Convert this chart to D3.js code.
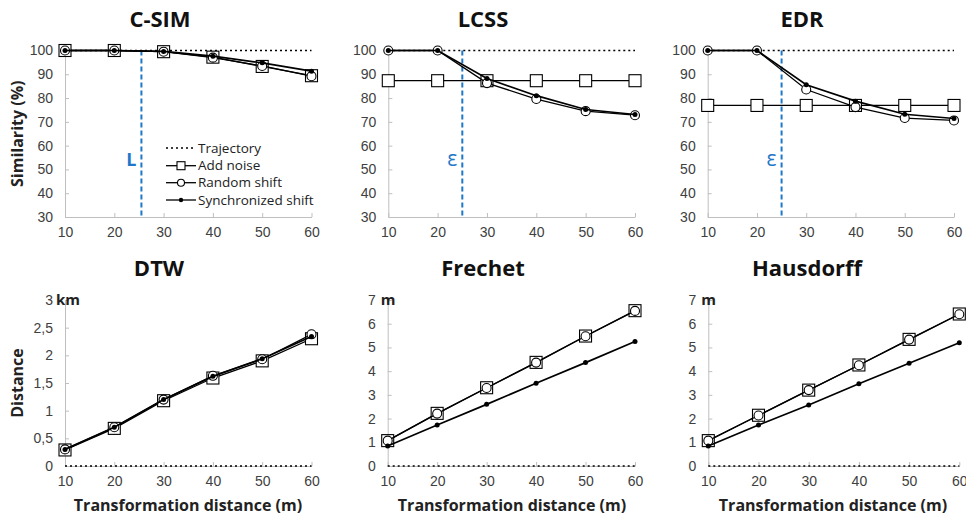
<!DOCTYPE html>
<html>
<head>
<meta charset="utf-8">
<script src="https://cdn.jsdelivr.net/npm/d3@7"></script>
<style>
  body { margin: 0; background: #fff; }
  svg { font-family: "Open Sans", sans-serif; }
  .tick text { fill: #404040; font-size: 14px; }
  .domain, .tick line { stroke: #bfbfbf; }
  .title { font-weight: bold; font-size: 22px; text-anchor: middle; fill: #111; }
  .axis-title { font-weight: bold; font-size: 16px; fill: #222; text-anchor: middle; }
  .legend text { font-size: 13.5px; fill: #222; }
</style>
</head>
<body>
<svg width="966" height="520"></svg>
<script>
// categories and ticks
const xCats = [10, 20, 30, 40, 50, 60];
const simTicks = [30, 40, 50, 60, 70, 80, 90, 100];
const kmTicks = [0, 0.5, 1, 1.5, 2, 2.5, 3];
const mTicks = [0, 1, 2, 3, 4, 5, 6, 7];
const seriesNames = ["Trajectory", "Add noise", "Random shift", "Synchronized shift"];

// reference series (identical trajectory)
const trajSim = [100, 100, 100, 100, 100, 100];
const trajDist = [0, 0, 0, 0, 0, 0];

// similarity measures (%)
const csimNoise = [100, 100, 99.5, 97.2, 93.3, 89.4];
const csimRandom = [100, 100, 99.5, 97.0, 93.5, 89.2];
const csimSync = [100, 100, 99.6, 97.6, 94.8, 91.3];
const lcssNoise = [87.3, 87.3, 87.3, 87.3, 87.3, 87.3];
const lcssRandom = [100, 100, 86.3, 79.6, 74.5, 72.8];
const lcssSync = [100, 100, 88.2, 81.0, 75.2, 73.1];
const edrNoise = [76.9, 76.9, 76.9, 76.9, 76.9, 76.9];
const edrRandom = [100, 100, 83.6, 76.2, 71.6, 70.6];
const edrSync = [100, 100, 85.6, 78.7, 73.2, 71.4];

// distance measures
const dtwNoise = [0.29, 0.68, 1.18, 1.59, 1.90, 2.30];
const dtwRandom = [0.30, 0.70, 1.20, 1.63, 1.93, 2.38];
const dtwSync = [0.30, 0.70, 1.20, 1.62, 1.94, 2.34];
const frechetNoise = [1.07, 2.22, 3.30, 4.37, 5.48, 6.55];
const frechetRandom = [1.07, 2.21, 3.29, 4.36, 5.47, 6.54];
const frechetSync = [0.84, 1.73, 2.60, 3.49, 4.36, 5.25];
const hausNoise = [1.07, 2.14, 3.20, 4.26, 5.34, 6.41];
const hausRandom = [1.07, 2.13, 3.20, 4.25, 5.33, 6.40];
const hausSync = [0.84, 1.73, 2.57, 3.47, 4.33, 5.20];

// thresholds (parameter marks)
const csimThreshold = 25.5;
const lcssThreshold = 25;
const edrThreshold = 25;

const svg = d3.select("svg");

const panels = [
  { title: "C-SIM", tx: 160, ty: 27, x0: 65, x1: 311.5, yTop: 50.5, yBot: 217,
    ticks: simTicks, traj: trajSim, noise: csimNoise, random: csimRandom, sync: csimSync,
    thr: csimThreshold, thrLabel: "L", yTitle: "Similarity (%)", legend: true },
  { title: "LCSS", tx: 483, ty: 27, x0: 388.3, x1: 635, yTop: 50.5, yBot: 217,
    ticks: simTicks, traj: trajSim, noise: lcssNoise, random: lcssRandom, sync: lcssSync,
    thr: lcssThreshold, thrLabel: "ε" },
  { title: "EDR", tx: 802, ty: 27, x0: 707.7, x1: 954, yTop: 50.5, yBot: 217,
    ticks: simTicks, traj: trajSim, noise: edrNoise, random: edrRandom, sync: edrSync,
    thr: edrThreshold, thrLabel: "ε" },
  { title: "DTW", tx: 159, ty: 276, x0: 65, x1: 311.5, yTop: 300, yBot: 466,
    ticks: kmTicks, traj: trajDist, noise: dtwNoise, random: dtwRandom, sync: dtwSync,
    unit: "km", yTitle: "Distance", xTitle: true, xtx: 188 },
  { title: "Frechet", tx: 483, ty: 276, x0: 387.7, x1: 635, yTop: 300, yBot: 466,
    ticks: mTicks, traj: trajDist, noise: frechetNoise, random: frechetRandom, sync: frechetSync,
    unit: "m", xTitle: true, xtx: 512 },
  { title: "Hausdorff", tx: 807, ty: 276, x0: 708.3, x1: 959.3, yTop: 300, yBot: 466,
    ticks: mTicks, traj: trajDist, noise: hausNoise, random: hausRandom, sync: hausSync,
    unit: "m", xTitle: true, xtx: 833 }
];

const fmt = (d) => String(d).replace(".", ",");

const drawSquare = (g, cx, cy, s) =>
  g.append("rect").attr("x", cx - s / 2).attr("y", cy - s / 2)
    .attr("width", s).attr("height", s)
    .attr("fill", "#fff").attr("stroke", "#000").attr("stroke-width", 1.1);

const drawCircle = (g, cx, cy, r) =>
  g.append("circle").attr("cx", cx).attr("cy", cy).attr("r", r)
    .attr("fill", "#fff").attr("stroke", "#000").attr("stroke-width", 1.1);

const drawDot = (g, cx, cy, r) =>
  g.append("circle").attr("cx", cx).attr("cy", cy).attr("r", r).attr("fill", "#000");

panels.forEach((p) => {
  const x = d3.scaleLinear().domain([10, 60]).range([p.x0, p.x1]);
  const y = d3.scaleLinear().domain(d3.extent(p.ticks)).range([p.yBot, p.yTop]);
  const g = svg.append("g");

  // axes: light gray, inward ticks
  g.append("g").attr("transform", `translate(${p.x0},0)`)
    .call(d3.axisLeft(y).tickValues(p.ticks).tickFormat(fmt)
      .tickSizeInner(-4).tickSizeOuter(0).tickPadding(12));
  g.append("g").attr("transform", `translate(0,${p.yBot})`)
    .call(d3.axisBottom(x).tickValues(xCats)
      .tickSizeInner(-4).tickSizeOuter(0).tickPadding(10));

  // unit next to the top tick
  if (p.unit) {
    g.append("text").attr("x", p.x0 - 12 + (p.unit === "km" ? 3 : 5))
      .attr("y", y(d3.max(p.ticks))).attr("dy", "0.32em")
      .attr("font-size", 15).attr("font-weight", "bold").attr("fill", "#222")
      .text(p.unit);
  }

  g.append("text").attr("class", "title").attr("x", p.tx).attr("y", p.ty).text(p.title);

  if (p.yTitle) {
    g.append("text").attr("class", "axis-title")
      .attr("transform", `translate(23,${(p.yTop + p.yBot) / 2}) rotate(-90)`)
      .attr("font-size", p.yTitle === "Distance" ? 17 : 15.5)
      .text(p.yTitle);
  }
  if (p.xTitle) {
    g.append("text").attr("class", "axis-title").attr("x", p.xtx).attr("y", 511)
      .text("Transformation distance (m)");
  }

  // threshold line
  if (p.thr) {
    g.append("line").attr("x1", x(p.thr)).attr("x2", x(p.thr))
      .attr("y1", y(d3.max(p.ticks))).attr("y2", y(d3.min(p.ticks)))
      .attr("stroke", "#1f77c8").attr("stroke-width", 2).attr("stroke-dasharray", "5,3");
    g.append("text").attr("x", x(p.thr) - 10).attr("y", 166)
      .attr("text-anchor", "middle").attr("fill", "#1f77c8")
      .attr("font-size", p.thrLabel === "L" ? 18 : 21)
      .attr("font-weight", p.thrLabel === "L" ? "bold" : "normal")
      .text(p.thrLabel);
  }

  const line = d3.line().x((d, i) => x(xCats[i])).y((d) => y(d));

  // Trajectory: dotted
  g.append("path").attr("d", line(p.traj)).attr("fill", "none")
    .attr("stroke", "#000").attr("stroke-width", 1.6).attr("stroke-dasharray", "2,3");

  // Add noise: squares
  g.append("path").attr("d", line(p.noise)).attr("fill", "none")
    .attr("stroke", "#000").attr("stroke-width", 1.3);
  p.noise.forEach((d, i) => drawSquare(g, x(xCats[i]), y(d), 12));

  // Random shift: circles
  g.append("path").attr("d", line(p.random)).attr("fill", "none")
    .attr("stroke", "#000").attr("stroke-width", 1.3);
  p.random.forEach((d, i) => drawCircle(g, x(xCats[i]), y(d), 4.5));

  // Synchronized shift: dots
  g.append("path").attr("d", line(p.sync)).attr("fill", "none")
    .attr("stroke", "#000").attr("stroke-width", 1.7);
  p.sync.forEach((d, i) => drawDot(g, x(xCats[i]), y(d), 2.5));

  // legend
  if (p.legend) {
    const lg = g.append("g").attr("class", "legend");
    const rows = [148, 165.7, 182.7, 200];
    seriesNames.forEach((name, i) => {
      const ly = rows[i];
      lg.append("line").attr("x1", 166).attr("x2", 196).attr("y1", ly).attr("y2", ly)
        .attr("stroke", "#000").attr("stroke-width", i === 0 ? 1.6 : 1.3)
        .attr("stroke-dasharray", i === 0 ? "2,3" : null);
      if (i === 1) drawSquare(lg, 181, ly, 8);
      if (i === 2) drawCircle(lg, 181, ly, 3.5);
      if (i === 3) drawDot(lg, 181, ly, 2.2);
      lg.append("text").attr("x", 198).attr("y", ly).attr("dy", "0.35em").text(name);
    });
  }
});
</script>
</body>
</html>
